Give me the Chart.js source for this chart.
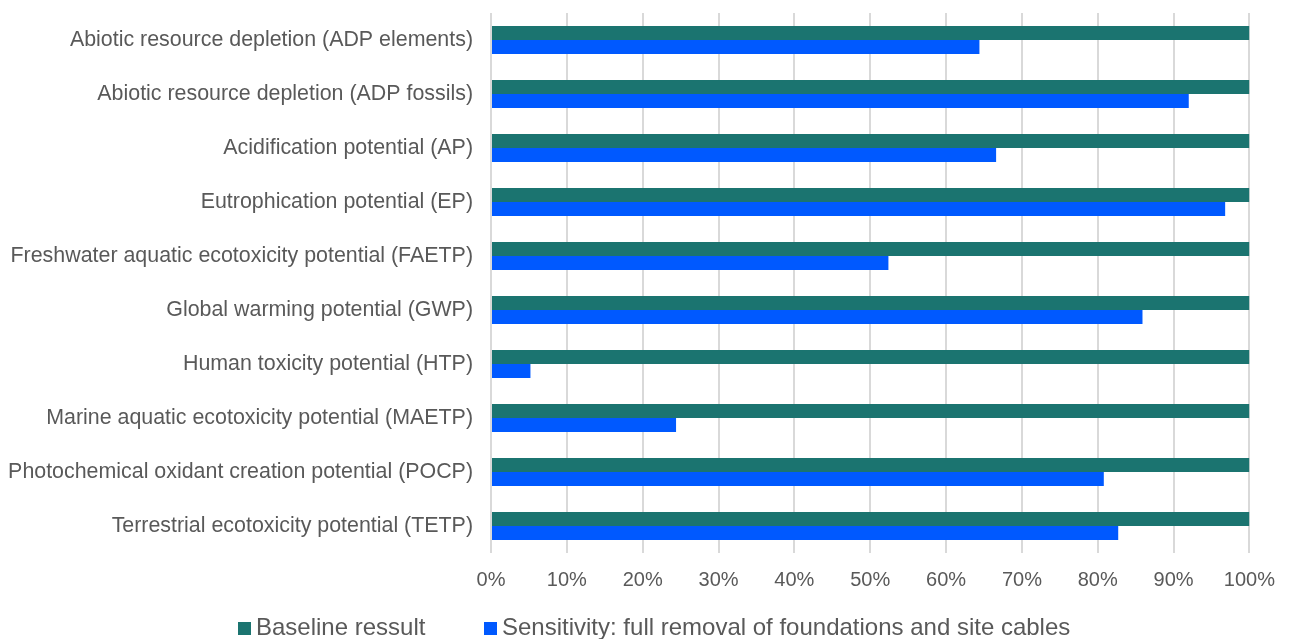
<!DOCTYPE html>
<html>
<head>
<meta charset="utf-8">
<script src="https://cdn.jsdelivr.net/npm/chart.js@4.4.0/dist/chart.umd.min.js"></script>
<style>
  html, body { margin: 0; padding: 0; background: #fff; }
  .wrap { position: relative; width: 1290px; height: 639px; }
  canvas { display: block; }
  .legend-box { position: absolute; width: 13px; height: 13px; top: 622px; }
  .legend-text {
    position: absolute; top: 615px; font: 24px/24px "Liberation Sans", Arial, sans-serif;
    color: #595959; white-space: nowrap;
  }
</style>
</head>
<body>
<div class="wrap">
  <canvas id="chart" width="1290" height="639"></canvas>
  <div class="legend-box" style="left:238px;background:#1b7470"></div>
  <span class="legend-text" style="left:256px">Baseline ressult</span>
  <div class="legend-box" style="left:484px;background:#0059ff"></div>
  <span class="legend-text" style="left:502px">Sensitivity: full removal of foundations and site cables</span>
</div>
<script>
const categories = [
  "Abiotic resource depletion (ADP elements)",
  "Abiotic resource depletion (ADP fossils)",
  "Acidification potential (AP)",
  "Eutrophication potential (EP)",
  "Freshwater aquatic ecotoxicity potential (FAETP)",
  "Global warming potential (GWP)",
  "Human toxicity potential (HTP)",
  "Marine aquatic ecotoxicity potential (MAETP)",
  "Photochemical oxidant creation potential (POCP)",
  "Terrestrial ecotoxicity potential (TETP)",
];
const seriesNames = ["Baseline ressult", "Sensitivity: full removal of foundations and site cables"];
const baseline = [100, 100, 100, 100, 100, 100, 100, 100, 100, 100];
const sensitivity = [64.4, 92.0, 66.6, 96.8, 52.4, 85.9, 5.2, 24.4, 80.8, 82.7];
const xTicks = [0, 10, 20, 30, 40, 50, 60, 70, 80, 90, 100];

const FONT = "'Liberation Sans', Arial, sans-serif";
const TEXT = "#595959";

new Chart(document.getElementById("chart"), {
  type: "bar",
  data: {
    labels: categories,
    datasets: [
      {
        label: seriesNames[0],
        data: baseline,
        backgroundColor: "#1b7470",
        categoryPercentage: 0.52,
        barPercentage: 1,
      },
      {
        label: seriesNames[1],
        data: sensitivity,
        backgroundColor: "#0059ff",
        categoryPercentage: 0.52,
        barPercentage: 1,
      },
    ],
  },
  options: {
    indexAxis: "y",
    responsive: false,
    animation: false,
    layout: {
      padding: { top: 13, right: 39, bottom: 46, left: 0 },
    },
    scales: {
      x: {
        min: 0,
        max: 100,
        afterBuildTicks(scale) {
          scale.ticks = xTicks.map((v) => ({ value: v }));
        },
        afterFit(scale) {
          scale.height = 40;
        },
        grid: {
          color: "#d9d9d9",
          lineWidth: 2,
          drawTicks: false,
        },
        border: { display: false },
        ticks: {
          padding: 15,
          color: TEXT,
          font: { family: FONT, size: 20 },
          callback: (value) => `${value}%`,
        },
      },
      y: {
        afterFit(scale) {
          // fixed axis width, and no label overhang at top/bottom
          scale.width = 491;
          scale.paddingTop = 0;
          scale.paddingBottom = 0;
        },
        grid: { display: false, drawTicks: false },
        border: { display: false },
        ticks: {
          padding: 18,
          color: TEXT,
          autoSkip: false,
          font: { family: FONT, size: 21.4 },
        },
      },
    },
    plugins: {
      legend: { display: false },
      tooltip: { enabled: false },
    },
  },
});
</script>
</body>
</html>
